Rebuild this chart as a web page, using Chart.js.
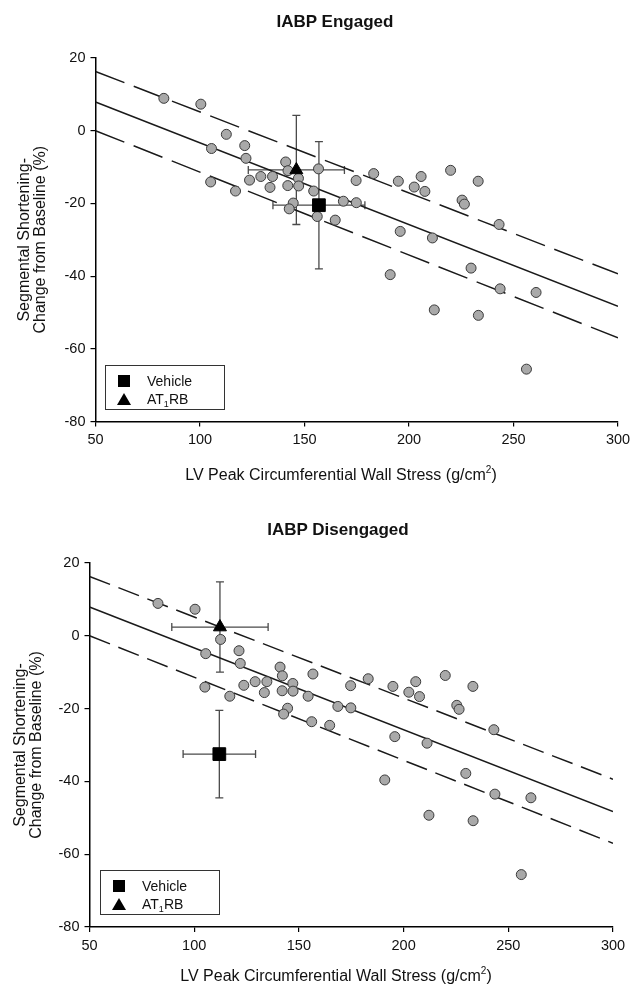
<!DOCTYPE html>
<html>
<head>
<meta charset="utf-8">
<script src="https://cdn.jsdelivr.net/npm/chart.js@4.4.1/dist/chart.umd.min.js"></script>
<style>
  body { margin: 0; background: #fff; font-family: "Liberation Sans", Arial, sans-serif; color: #111; }
  #page { position: relative; width: 641px; height: 992px; overflow: hidden; }
  .panel { position: absolute; left: 0; width: 641px; height: 496px; }
  .title { position: absolute; font-weight: bold; font-size: 17px; transform: translate(-50%, -50%); white-space: nowrap; }
  .xtitle { position: absolute; font-size: 16px; transform: translate(-50%, -50%); white-space: nowrap; }
  .legend { position: absolute; width: 118px; height: 43px; border: 1px solid #333; font-size: 14px; }
  .legend .row { position: absolute; left: 0; height: 18px; line-height: 18px; }
  .legend .lbl { position: absolute; left: 41px; white-space: nowrap; }
  .legend sub { font-size: 9px; vertical-align: -3px; }
  .sq { position: absolute; left: 12px; top: 3px; width: 12px; height: 12px; background: #000; }
  .tri { position: absolute; left: 11px; top: 3px; width: 0; height: 0; border-left: 7px solid transparent; border-right: 7px solid transparent; border-bottom: 12px solid #000; }
</style>
</head>
<body>
<div id="page">
  <div class="panel" style="top:0">
    <canvas id="engagedChart" width="641" height="496"></canvas>
    <div class="title" style="left:335px; top:22px">IABP Engaged</div>
    <div class="xtitle" style="left:341px; top:474px">LV Peak Circumferential Wall Stress (g/cm<sup style="font-size:10px">2</sup>)</div>
    <div class="legend" style="left:105px; top:365px">
      <div class="row" style="top:6px"><div class="sq"></div><span class="lbl">Vehicle</span></div>
      <div class="row" style="top:24px"><div class="tri"></div><span class="lbl">AT<sub>1</sub>RB</span></div>
    </div>
  </div>
  <div class="panel" style="top:496px">
    <canvas id="disengagedChart" width="641" height="496"></canvas>
    <div class="title" style="left:338px; top:34px">IABP Disengaged</div>
    <div class="xtitle" style="left:336px; top:479px">LV Peak Circumferential Wall Stress (g/cm<sup style="font-size:10px">2</sup>)</div>
    <div class="legend" style="left:100px; top:374px">
      <div class="row" style="top:6px"><div class="sq"></div><span class="lbl">Vehicle</span></div>
      <div class="row" style="top:24px"><div class="tri"></div><span class="lbl">AT<sub>1</sub>RB</span></div>
    </div>
  </div>
</div>
<script>
// individual animals (same cloud in both panels)
const wallStress = [82.7, 100.4, 112.6, 105.5, 121.4, 122, 105.1, 117, 123.7, 129.1, 134.7, 133.5,
  141, 142.1, 142, 147.1, 147.2, 144.6, 142.7, 156.7, 154.4, 156.1, 164.7, 168.6, 174.8, 174.7,
  183.1, 194.9, 202.5, 205.8, 207.6, 219.9, 225.4, 226.5, 233.1, 195.8, 211.2, 229.7, 243.1,
  243.6, 260.8, 191, 212.1, 233.2, 256.2];
const segShortening = [8.9, 7.3, -1.0, -4.9, -4.1, -7.6, -14.1, -16.6, -13.6, -12.6, -12.6, -15.6,
  -8.6, -11, -15.1, -13.1, -15.2, -19.9, -21.5, -10.5, -16.6, -23.6, -24.6, -19.4, -19.8, -13.7,
  -11.8, -13.9, -15.5, -12.6, -16.7, -10.9, -19.1, -20.2, -13.9, -27.7, -29.5, -37.8, -25.8,
  -43.5, -44.5, -39.6, -49.3, -50.8, -65.6];

// regression line and confidence band
const fitX = [50, 300];
const fitMean = [7.9, -48.3];
const fitUpper = [16.3, -39.4];
const fitLower = [0, -57];

// group means (Vehicle, AT1RB)
const groupNames = ["Vehicle", "AT1RB"];
const engagedX = [156.9, 146.1];
const engagedY = [-20.5, -10.8];
const engagedXErr = [22, 23];
const engagedYErr = [17.5, 15];
const disengagedX = [112, 112.3];
const disengagedY = [-32.5, 2.4];
const disengagedXErr = [17.3, 23];
const disengagedYErr = [12, 12.4];

const xTicks = [50, 100, 150, 200, 250, 300];
const yTicks = [-80, -60, -40, -20, 0, 20];

const FONT = "'Liberation Sans', Arial, sans-serif";

const errorBars = {
  id: "errorBars",
  beforeDatasetsDraw(chart, args, opts) {
    const { ctx } = chart;
    const sx = chart.scales.x, sy = chart.scales.y;
    const cap = 4;
    ctx.save();
    ctx.strokeStyle = "#4a4a4a";
    ctx.lineWidth = 1.3;
    opts.xs.forEach((xv, i) => {
      const px = sx.getPixelForValue(xv), py = sy.getPixelForValue(opts.ys[i]);
      const x0 = sx.getPixelForValue(xv - opts.xErr[i]), x1 = sx.getPixelForValue(xv + opts.xErr[i]);
      const y0 = sy.getPixelForValue(opts.ys[i] + opts.yErr[i]), y1 = sy.getPixelForValue(opts.ys[i] - opts.yErr[i]);
      ctx.beginPath();
      ctx.moveTo(x0, py); ctx.lineTo(x1, py);
      ctx.moveTo(x0, py - cap); ctx.lineTo(x0, py + cap);
      ctx.moveTo(x1, py - cap); ctx.lineTo(x1, py + cap);
      ctx.moveTo(px, y0); ctx.lineTo(px, y1);
      ctx.moveTo(px - cap, y0); ctx.lineTo(px + cap, y0);
      ctx.moveTo(px - cap, y1); ctx.lineTo(px + cap, y1);
      ctx.stroke();
    });
    ctx.restore();
  },
};

function linePoints(ys) {
  return fitX.map((x, i) => ({ x: x, y: ys[i] }));
}

function makeChart(id, gx, gy, gxErr, gyErr, box, dash) {
  const fitLine = (ys, d) => ({
    data: linePoints(ys),
    showLine: true,
    borderColor: "#1a1a1a",
    borderWidth: 1.5,
    borderDash: d,
    pointRadius: 0,
  });
  new Chart(document.getElementById(id), {
    type: "scatter",
    data: {
      datasets: [
        {
          label: groupNames[0],
          data: [{ x: gx[0], y: gy[0] }],
          pointStyle: "rect",
          pointRadius: 9,
          backgroundColor: "#000",
          borderColor: "#000",
        },
        {
          label: groupNames[1],
          data: [{ x: gx[1], y: gy[1] }],
          pointStyle: "triangle",
          pointRadius: 7.5,
          backgroundColor: "#000",
          borderColor: "#000",
        },
        {
          label: "animals",
          data: wallStress.map((x, i) => ({ x: x, y: segShortening[i] })),
          pointRadius: 5,
          backgroundColor: "#a9a9a9",
          borderColor: "#3a3a3a",
          borderWidth: 1,
        },
        fitLine(fitMean, []),
        fitLine(fitUpper, dash),
        fitLine(fitLower, dash),
      ],
    },
    options: {
      responsive: false,
      animation: false,
      devicePixelRatio: 1,
      layout: { padding: { top: box.top, right: box.right, bottom: 0, left: 0 } },
      plugins: {
        legend: { display: false },
        tooltip: { enabled: false },
        errorBars: { xs: gx, ys: gy, xErr: gxErr, yErr: gyErr },
      },
      scales: {
        x: {
          type: "linear",
          min: xTicks[0],
          max: xTicks[xTicks.length - 1],
          afterBuildTicks: (s) => { s.ticks = xTicks.map((v) => ({ value: v })); },
          ticks: { color: "#111", font: { family: FONT, size: 14.5 }, padding: 5 },
          grid: { drawOnChartArea: false, tickLength: 5, color: "#000", lineWidth: 1.2 },
          border: { color: "#000", width: 1.5 },
          afterFit: (s) => { s.height = box.xHeight; },
        },
        y: {
          type: "linear",
          min: yTicks[0],
          max: yTicks[yTicks.length - 1],
          afterBuildTicks: (s) => { s.ticks = yTicks.map((v) => ({ value: v })); },
          ticks: { color: "#111", font: { family: FONT, size: 14.5 }, padding: 5 },
          grid: { drawOnChartArea: false, tickLength: 5, color: "#000", lineWidth: 1.2 },
          border: { color: "#000", width: 1.5 },
          title: {
            display: true,
            text: ["Segmental Shortening-", "Change from Baseline (%)"],
            color: "#111",
            font: { family: FONT, size: 16, lineHeight: 1.0 },
            padding: { top: box.titlePad, bottom: 0 },
          },
          afterFit: (s) => { s.width = box.yWidth; },
        },
      },
    },
    plugins: [errorBars],
  });
}

makeChart("engagedChart", engagedX, engagedY, engagedXErr, engagedYErr,
  { top: 58, right: 23, xHeight: 74.5, yWidth: 95.5, titlePad: 17 }, [31, 10]);
makeChart("disengagedChart", disengagedX, disengagedY, disengagedXErr, disengagedYErr,
  { top: 67, right: 28, xHeight: 65, yWidth: 89.5, titlePad: 13 }, [22, 9]);
</script>
</body>
</html>
